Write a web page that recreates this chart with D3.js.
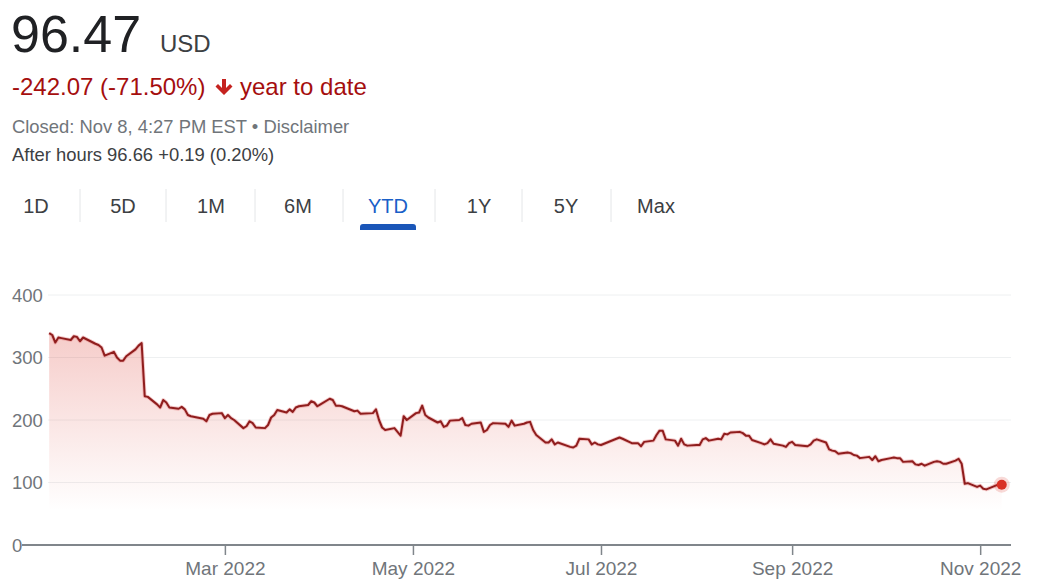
<!DOCTYPE html>
<html>
<head>
  <meta charset="utf-8">
  <title>YTD</title>
  <script src="https://cdn.jsdelivr.net/npm/d3@7"></script>
  <style>
    body { margin: 0; background: #fff; }
    text { font-family: "Liberation Sans", Arial, sans-serif; }
  </style>
</head>
<body>
  <svg width="1044" height="584" id="mainsvg"></svg>
  <script>
    // closing prices
    const dates = [
      "2022-01-03","2022-01-04","2022-01-05","2022-01-06","2022-01-07","2022-01-10","2022-01-11","2022-01-12","2022-01-13","2022-01-14",
      "2022-01-18","2022-01-19","2022-01-20","2022-01-21","2022-01-24","2022-01-25","2022-01-26","2022-01-27","2022-01-28","2022-01-31",
      "2022-02-01","2022-02-02","2022-02-03","2022-02-04","2022-02-07","2022-02-08","2022-02-09","2022-02-10","2022-02-11","2022-02-14",
      "2022-02-15","2022-02-16","2022-02-17","2022-02-18","2022-02-22","2022-02-23","2022-02-24","2022-02-25","2022-02-28","2022-03-01",
      "2022-03-02","2022-03-03","2022-03-04","2022-03-07","2022-03-08","2022-03-09","2022-03-10","2022-03-11","2022-03-14","2022-03-15",
      "2022-03-16","2022-03-17","2022-03-18","2022-03-21","2022-03-22","2022-03-23","2022-03-24","2022-03-25","2022-03-28","2022-03-29",
      "2022-03-30","2022-03-31","2022-04-01","2022-04-04","2022-04-05","2022-04-06","2022-04-07","2022-04-08","2022-04-11","2022-04-12",
      "2022-04-13","2022-04-14","2022-04-18","2022-04-19","2022-04-20","2022-04-21","2022-04-22","2022-04-25","2022-04-26","2022-04-27",
      "2022-04-28","2022-04-29","2022-05-02","2022-05-03","2022-05-04","2022-05-05","2022-05-06","2022-05-09","2022-05-10","2022-05-11",
      "2022-05-12","2022-05-13","2022-05-16","2022-05-17","2022-05-18","2022-05-19","2022-05-20","2022-05-23","2022-05-24","2022-05-25",
      "2022-05-26","2022-05-27","2022-05-31","2022-06-01","2022-06-02","2022-06-03","2022-06-06","2022-06-07","2022-06-08","2022-06-09",
      "2022-06-10","2022-06-13","2022-06-14","2022-06-15","2022-06-16","2022-06-17","2022-06-21","2022-06-22","2022-06-23","2022-06-24",
      "2022-06-27","2022-06-28","2022-06-29","2022-06-30","2022-07-01","2022-07-05","2022-07-06","2022-07-07","2022-07-08","2022-07-11",
      "2022-07-12","2022-07-13","2022-07-14","2022-07-15","2022-07-18","2022-07-19","2022-07-20","2022-07-21","2022-07-22","2022-07-25",
      "2022-07-26","2022-07-27","2022-07-28","2022-07-29","2022-08-01","2022-08-02","2022-08-03","2022-08-04","2022-08-05","2022-08-08",
      "2022-08-09","2022-08-10","2022-08-11","2022-08-12","2022-08-15","2022-08-16","2022-08-17","2022-08-18","2022-08-19","2022-08-22",
      "2022-08-23","2022-08-24","2022-08-25","2022-08-26","2022-08-29","2022-08-30","2022-08-31","2022-09-01","2022-09-02","2022-09-06",
      "2022-09-07","2022-09-08","2022-09-09","2022-09-12","2022-09-13","2022-09-14","2022-09-15","2022-09-16","2022-09-19","2022-09-20",
      "2022-09-21","2022-09-22","2022-09-23","2022-09-26","2022-09-27","2022-09-28","2022-09-29","2022-09-30","2022-10-03","2022-10-04",
      "2022-10-05","2022-10-06","2022-10-07","2022-10-10","2022-10-11","2022-10-12","2022-10-13","2022-10-14","2022-10-17","2022-10-18",
      "2022-10-19","2022-10-20","2022-10-21","2022-10-24","2022-10-25","2022-10-26","2022-10-27","2022-10-28","2022-10-31","2022-11-01",
      "2022-11-02","2022-11-03","2022-11-04","2022-11-07","2022-11-08"
    ];
    const prices = [
      339, 336, 324, 332, 331, 328, 334, 333, 326, 332,
      322, 320, 316, 303, 309, 300, 295, 295, 302, 313,
      319, 323, 238, 237, 225, 220, 232, 228, 220, 218,
      221, 217, 208, 206, 202, 198, 208, 210, 211, 203,
      208, 203, 200, 187, 190, 198, 195, 188, 187, 192,
      204, 208, 216, 212, 217, 213, 220, 222, 224, 230,
      228, 222, 225, 234, 232, 223, 223, 222, 216, 214,
      215, 210, 211, 217, 200, 188, 184, 187, 181, 175,
      206, 200, 211, 212, 223, 208, 204, 196, 198, 189,
      191, 199, 200, 203, 192, 191, 194, 196, 181, 184,
      192, 195, 194, 189, 199, 191, 194, 196, 197, 184,
      176, 164, 164, 169, 161, 164, 157, 156, 159, 170,
      169, 161, 164, 161, 160, 168, 170, 172, 170, 163,
      163, 163, 158, 165, 167, 176, 183, 183, 169, 167,
      159, 170, 161, 159, 160, 160, 169, 171, 167, 170,
      169, 178, 177, 180, 181, 179, 175, 175, 168, 163,
      161, 163, 169, 162, 159, 157, 163, 165, 160, 158,
      161, 167, 169, 164, 153, 151, 150, 146, 148, 147,
      144, 143, 139, 141, 136, 142, 134, 136, 139, 140,
      139, 139, 133, 134, 129, 128, 130, 127, 133, 134,
      133, 130, 130, 135, 138, 130, 98, 99, 93, 95,
      90, 89, 91, 97, 96.47
    ];
    const yTicks = [0, 100, 200, 300, 400];
    const xTicks = ["2022-03-01", "2022-05-01", "2022-07-01", "2022-09-01", "2022-11-01"];
    const ranges = ["1D", "5D", "1M", "6M", "YTD", "1Y", "5Y", "Max"];

    const svg = d3.select('#mainsvg');
    const parse = d3.timeParse("%Y-%m-%d");
    const data = dates.map((d, i) => ({ date: parse(d), value: prices[i] }));

    // header
    svg.append("text").attr("x", 11).attr("y", 52)
      .attr("font-size", 52).attr("fill", "#202124").text("96.47");
    svg.append("text").attr("x", 160).attr("y", 52)
      .attr("font-size", 24).attr("fill", "#3c4043").text("USD");

    svg.append("text").attr("x", 12).attr("y", 95)
      .attr("font-size", 24).attr("fill", "#a50e0e").text("-242.07 (-71.50%)");
    svg.append("path")//down arrow
      .attr("d", "M222,79 h4 v9 l4,-4 l2.5,2.5 l-8.5,8.5 l-8.5,-8.5 l2.5,-2.5 l4,4 z")
      .attr("fill", "#c5221f");
    svg.append("text").attr("x", 240).attr("y", 95)
      .attr("font-size", 24).attr("fill", "#a50e0e").text("year to date");

    svg.append("text").attr("x", 12).attr("y", 133)
      .attr("font-size", 18.4).attr("fill", "#70757a").text("Closed: Nov 8, 4:27 PM EST • Disclaimer");
    svg.append("text").attr("x", 12).attr("y", 161)
      .attr("font-size", 18.4).attr("fill", "#3c4043").text("After hours 96.66 +0.19 (0.20%)");

    // range tabs
    const tabX = [36, 123, 211, 298, 388, 479, 566, 656];
    const sepX = [80, 166, 255, 343, 435, 522, 611];
    svg.selectAll('.tab').data(ranges).enter().append('text')
      .attr("class", "tab")
      .attr("x", (d, i) => tabX[i]).attr("y", 213)
      .attr("text-anchor", "middle").attr("font-size", 20)
      .attr("fill", d => d === "YTD" ? "#1a5fc8" : "#3c4043")
      .text(d => d);
    svg.selectAll('.sep').data(sepX).enter().append('line')
      .attr("class", "sep")
      .attr("x1", d => d).attr("x2", d => d).attr("y1", 189).attr("y2", 222)
      .attr("stroke", "#e4e6e8").attr("stroke-width", 1);
    svg.append("path")//active tab underline
      .attr("d", "M360,230 v-3 a3,3 0 0 1 3,-3 h50 a3,3 0 0 1 3,3 v3 z")
      .attr("fill", "#1a56b8");

    // scales
    const x = d3.scaleTime()
      .domain([parse("2022-01-01"), parse("2022-11-11")])
      .range([43, 1011]);
    const y = d3.scaleLinear().domain([0, 400]).range([545, 295]);

    // gridlines
    svg.selectAll('.grid').data(yTicks.filter(d => d > 0)).enter().append('line')
      .attr("class", "grid")
      .attr("x1", 48).attr("x2", 1011)
      .attr("y1", d => y(d)).attr("y2", d => y(d))
      .attr("stroke", "#eef0f1").attr("stroke-width", 1);
    svg.selectAll('.ylab').data(yTicks).enter().append('text')
      .attr("class", "ylab")
      .attr("x", 12).attr("y", d => y(d) + 6.5)
      .attr("font-size", 18.5).attr("fill", "#70757a")
      .text(d => d);

    // area + line
    const defs = svg.append("defs");
    const grad = defs.append("linearGradient")
      .attr("id", "fade").attr("gradientUnits", "userSpaceOnUse")
      .attr("x1", 0).attr("x2", 0).attr("y1", y(345)).attr("y2", y(55));
    grad.append("stop").attr("offset", 0).attr("stop-color", "#d93025").attr("stop-opacity", 0.25);
    grad.append("stop").attr("offset", 1).attr("stop-color", "#d93025").attr("stop-opacity", 0);

    const area = d3.area().x(d => x(d.date)).y0(y(0)).y1(d => y(d.value));
    const line = d3.line().x(d => x(d.date)).y(d => y(d.value));

    svg.append("path").datum(data).attr("d", area).attr("fill", "url(#fade)");
    svg.append("path").datum(data).attr("d", line)
      .attr("fill", "none").attr("stroke", "#e0686a").attr("stroke-width", 3.8)
      .attr("stroke-opacity", 0.35).attr("stroke-linejoin", "round");
    svg.append("path").datum(data).attr("d", line)
      .attr("fill", "none").attr("stroke", "#8f1d1d").attr("stroke-width", 2)
      .attr("stroke-linejoin", "round");

    // x axis
    const xAxis = d3.axisBottom(x)
      .tickValues(xTicks.map(parse))
      .tickSize(10)
      .tickFormat(d3.timeFormat("%b %Y"));
    const gx = svg.append("g").attr("transform", `translate(0,${y(0)})`).call(xAxis);
    gx.select(".domain").remove();
    gx.selectAll(".tick line").attr("stroke", "#80868b").attr("stroke-width", 1.5);
    gx.selectAll(".tick text").attr("font-size", 19).attr("fill", "#70757a")
      .attr("y", 20).attr("dy", "0.5em")
      .style("font-family", '"Liberation Sans", Arial, sans-serif');
    svg.append("line")//base line
      .attr("x1", 22).attr("x2", 1011).attr("y1", y(0)).attr("y2", y(0))
      .attr("stroke", "#80868b").attr("stroke-width", 2);

    // last point
    const last = data[data.length - 1];
    svg.append("circle").attr("cx", x(last.date)).attr("cy", y(last.value))
      .attr("r", 8).attr("fill", "#d93025").attr("opacity", 0.18);
    svg.append("circle").attr("cx", x(last.date)).attr("cy", y(last.value))
      .attr("r", 5).attr("fill", "#d93025");
  </script>
</body>
</html>
